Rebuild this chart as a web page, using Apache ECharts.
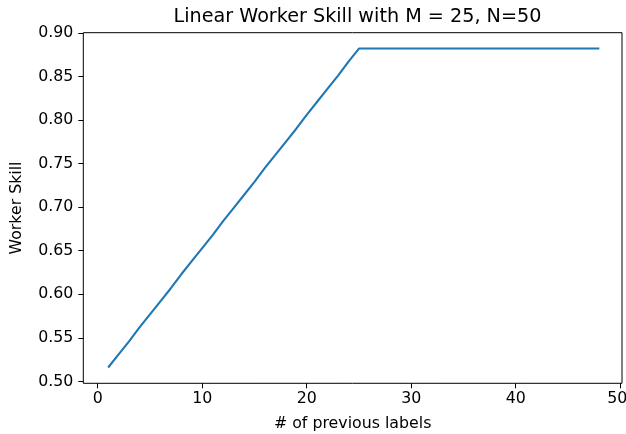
<!DOCTYPE html>
<html>
<head>
<meta charset="utf-8">
<script src="https://cdn.jsdelivr.net/npm/echarts@6/dist/echarts.min.js"></script>
<style>html,body{margin:0;padding:0;background:#fff}#c{width:626px;height:434px}</style>
</head>
<body>
<div id="c"></div>
<script>
const titleText = "Linear Worker Skill with M = 25, N=50";
const xLabel = "# of previous labels";
const yLabel = "Worker Skill";
const xValues = [1,2,3,4,5,6,7,8,9,10,11,12,13,14,15,16,17,18,19,20,21,22,23,24,25,26,27,28,29,30,31,32,33,34,35,36,37,38,39,40,41,42,43,44,45,46,47,48];
const skill = [0.516,0.531,0.546,0.562,0.577,0.592,0.607,0.623,0.638,0.653,0.668,0.684,0.699,0.714,0.729,0.745,0.760,0.775,0.790,0.806,0.821,0.836,0.851,0.867,0.882,0.882,0.882,0.882,0.882,0.882,0.882,0.882,0.882,0.882,0.882,0.882,0.882,0.882,0.882,0.882,0.882,0.882,0.882,0.882,0.882,0.882,0.882,0.882];
const xTickValues = [0, 10, 20, 30, 40, 50];
const yTickValues = [0.50, 0.55, 0.60, 0.65, 0.70, 0.75, 0.80, 0.85, 0.90];
const xRange = [-1.378, 50.17];
const yRange = [0.4979, 0.9002];

const font = "DejaVu Sans";
const tickFont = 15.8;
const chart = echarts.init(document.getElementById('c'), null, {renderer: 'canvas'});
chart.setOption({
  animation: false,
  backgroundColor: '#fff',
  title: {text: titleText, left: 352.5, top: 3, textAlign: 'center',
    textStyle: {fontFamily: font, fontSize: 19.2, fontWeight: 'normal', color: '#000'}},
  grid: {left: 83.3, right: 4, top: 32.7, bottom: 50.7, containLabel: false, outerBoundsMode: 'none',
    show: true, borderColor: '#000', borderWidth: 1, backgroundColor: 'transparent'},
  xAxis: {type: 'value', min: xRange[0], max: xRange[1],
    axisLine: {show: false, onZero: false}, splitLine: {show: false},
    axisTick: {show: true, length: 5, customValues: xTickValues, lineStyle: {color: '#000', width: 1}},
    axisLabel: {margin: 8, customValues: xTickValues, fontFamily: font, fontSize: tickFont, color: '#000',
      formatter: v => v === xTickValues[xTickValues.length - 1] ? '{e|' + v + '}' : String(v),
      rich: {e: {fontFamily: font, fontSize: tickFont, color: '#000', padding: [0, 6, 0, 0]}}},
    name: xLabel, nameLocation: 'middle', nameGap: 33,
    nameTextStyle: {fontFamily: font, fontSize: tickFont, color: '#000'}},
  yAxis: {type: 'value', min: yRange[0], max: yRange[1],
    axisLine: {show: false, onZero: false}, splitLine: {show: false},
    axisTick: {show: true, length: 5, customValues: yTickValues, lineStyle: {color: '#000', width: 1}},
    axisLabel: {margin: 10, customValues: yTickValues, fontFamily: font, fontSize: tickFont, color: '#000', formatter: v => v.toFixed(2)},
    name: yLabel, nameLocation: 'middle', nameGap: 58, nameRotate: 90,
    nameTextStyle: {fontFamily: font, fontSize: tickFont, color: '#000'}},
  series: [{
    type: 'line',
    data: xValues.map((x, i) => [x, skill[i]]),
    showSymbol: false, symbol: 'none',
    lineStyle: {color: '#1f77b4', width: 2.1}
  }]
});
</script>
</body>
</html>
